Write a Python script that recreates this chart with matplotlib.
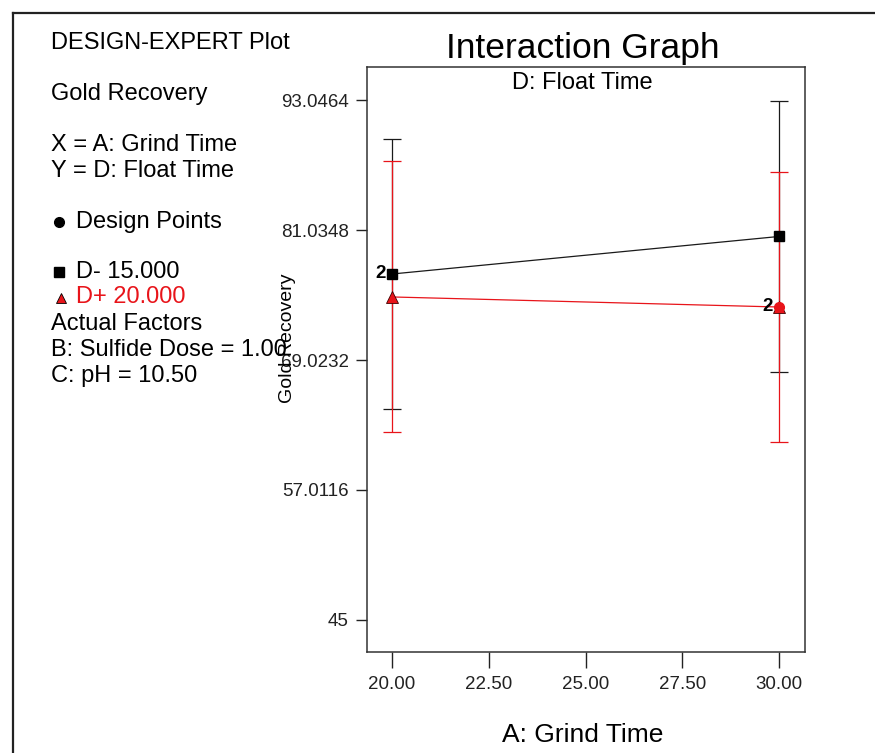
import matplotlib
matplotlib.use("Agg")
import matplotlib.pyplot as plt
from matplotlib.lines import Line2D
from matplotlib import font_manager

# ---- data -------------------------------------------------------------
grind_time = [20.0, 30.0]
recovery_d_minus = [76.97, 80.44]   # D- 15.000
recovery_d_plus = [74.85, 73.92]    # D+ 20.000
lsd_half = [12.52, 12.52]           # half-width of the LSD bars

y_ticks = [45.0, 57.0116, 69.0232, 81.0348, 93.0464]
y_tick_labels = ["45", "57.0116", "69.0232", "81.0348", "93.0464"]
x_ticks = [20.0, 22.5, 25.0, 27.5, 30.0]
x_tick_labels = ["20.00", "22.50", "25.00", "27.50", "30.00"]

# design-point replicate counts: (x, y, series, count)
design_counts = [(20.0, recovery_d_minus[0], "minus", "2"),
                 (30.0, recovery_d_plus[1], "plus", "2")]

# ---- style ------------------------------------------------------------
names = {f.name for f in font_manager.fontManager.ttflist}
base = "Liberation Sans" if "Liberation Sans" in names else "DejaVu Sans"
narrow = "Liberation Sans Narrow" if "Liberation Sans Narrow" in names else base
plt.rcParams["font.family"] = [base, "DejaVu Sans"]

W, H = 875, 753
fig = plt.figure(figsize=(W / 100, H / 100), dpi=100)
fig.patch.set_facecolor("white")

def fx(px):
    return px / W

def fy(py):
    return 1 - py / H

# axes box in pixel coordinates
left, right, top, bottom = 367, 805, 67, 652
ax = fig.add_axes([fx(left), fy(bottom), fx(right - left), (bottom - top) / H])

BLACK = "#1a1a1a"
RED = "#e8141a"

# connecting lines
ax.plot(grind_time, recovery_d_minus, color=BLACK, lw=0.9, zorder=3)
ax.plot(grind_time, recovery_d_plus, color=RED, lw=0.9, zorder=3)

# LSD bars (red drawn over black)
ax.errorbar(grind_time, recovery_d_minus, yerr=lsd_half, fmt="none",
            ecolor=BLACK, elinewidth=0.9, capsize=6.2, capthick=0.9, zorder=2)
ax.errorbar(grind_time, recovery_d_plus, yerr=lsd_half, fmt="none",
            ecolor=RED, elinewidth=0.9, capsize=6.2, capthick=0.9, zorder=4)

# factor-level markers
ax.plot(grind_time, recovery_d_minus, ls="none", marker="s", ms=7,
        mfc="black", mec="black", zorder=5)
ax.plot(grind_time, recovery_d_plus, ls="none", marker="^", ms=9,
        mfc=RED, mec="#400000", mew=0.6, zorder=5)

# design points with replicate counts
for x, y, series, count in design_counts:
    if series == "plus":
        ax.plot([x], [y], ls="none", marker="o", ms=7, mfc=RED, mec=RED,
                zorder=6)
    ax.annotate(count, (x, y), xytext=(-4.5, 0.5), textcoords="offset points",
                ha="right", va="center", fontsize=13.5, fontweight="bold",
                color="black", zorder=7)

ax.set_xlim(19.355, 30.67)
ax.set_ylim(42.04, 96.10)
ax.set_xticks(x_ticks)
ax.set_xticklabels(x_tick_labels)
ax.set_yticks(y_ticks)
ax.set_yticklabels(y_tick_labels)
ax.tick_params(axis="x", direction="out", length=11.5, width=1.0,
               pad=6, labelsize=13.5, colors="#222222")
ax.tick_params(axis="y", direction="out", length=8, width=1.0,
               pad=5, labelsize=13.5, colors="#222222")
for sp in ax.spines.values():
    sp.set_color("#333333")
    sp.set_linewidth(1.1)

# titles
fig.text(fx(583), fy(58), "Interaction Graph", ha="center", va="baseline",
         fontsize=25.5, color="black")
fig.text(fx(582), fy(89), "D: Float Time", ha="center", va="baseline",
         fontsize=17, color="black")
fig.text(fx(583), fy(742), "A: Grind Time", ha="center", va="baseline",
         fontsize=19, color="black")
fig.text(fx(287), fy(338), "Gold Recovery", ha="center", va="center",
         rotation=90, fontsize=14, family=[narrow, "DejaVu Sans"],
         color="black")

# side panel
fs = 17
side = [
    (51, 49, "DESIGN-EXPERT Plot", "black"),
    (51, 100, "Gold Recovery", "black"),
    (51, 151, "X = A: Grind Time", "black"),
    (51, 177, "Y = D: Float Time", "black"),
    (76, 228, "Design Points", "black"),
    (76, 278, "D- 15.000", "black"),
    (76, 303, "D+ 20.000", RED),
    (51, 330, "Actual Factors", "black"),
    (51, 356, "B: Sulfide Dose = 1.00", "black"),
    (51, 382, "C: pH = 10.50", "black"),
]
for x, y, s, c in side:
    fig.text(fx(x), fy(y), s, ha="left", va="baseline", fontsize=fs, color=c)

# side panel symbols
fig.add_artist(Line2D([fx(59)], [fy(222)], ls="none", marker="o", ms=7,
                      mfc="black", mec="black"))
fig.add_artist(Line2D([fx(59)], [fy(272)], ls="none", marker="s", ms=7,
                      mfc="black", mec="black"))
fig.add_artist(Line2D([fx(61)], [fy(298)], ls="none", marker="^", ms=7,
                      mfc=RED, mec="black", mew=0.6))

# outer frame (top and left edges)
fig.add_artist(Line2D([fx(13), fx(13)], [fy(13), 0], color="#222222", lw=1.6))
fig.add_artist(Line2D([fx(13), 1], [fy(13), fy(13)], color="#222222", lw=1.6))

fig.savefig("out.png", dpi=100, facecolor="white")
